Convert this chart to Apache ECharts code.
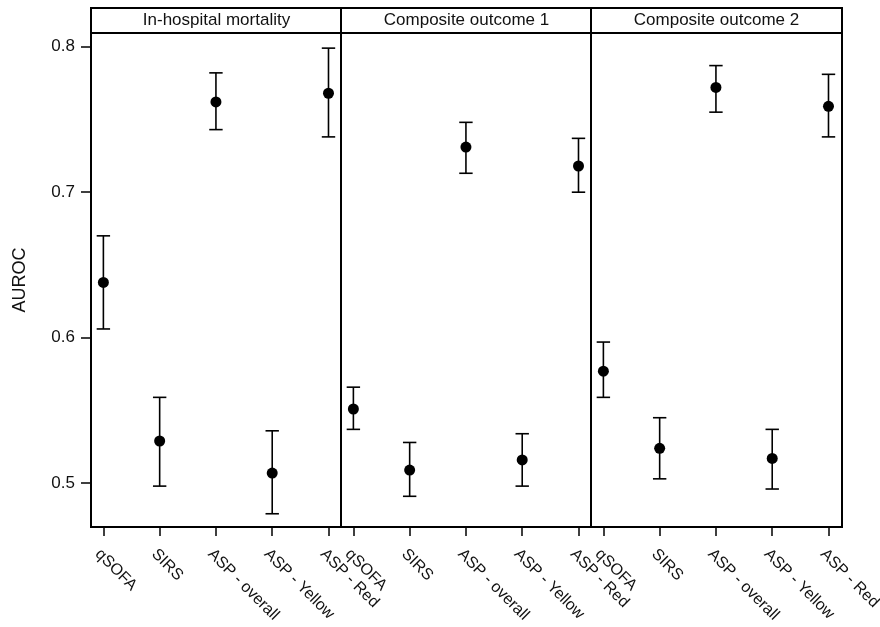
<!DOCTYPE html>
<html>
<head>
<meta charset="utf-8">
<script src="https://cdn.jsdelivr.net/npm/echarts@6/dist/echarts.min.js"></script>
<style>
html,body{margin:0;padding:0;background:#fff;}
#chart{width:880px;height:627px;}
</style>
</head>
<body>
<div id="chart"></div>
<script>
// ---- data ----
const categories = ['qSOFA', 'SIRS', 'ASP - overall', 'ASP - Yellow', 'ASP - Red'];
const panelTitles = ['In-hospital mortality', 'Composite outcome 1', 'Composite outcome 2'];
const mortalityAuc  = [0.638, 0.529, 0.762, 0.507, 0.768];
const mortalityLow  = [0.606, 0.498, 0.743, 0.479, 0.738];
const mortalityHigh = [0.670, 0.559, 0.782, 0.536, 0.799];
const comp1Auc  = [0.551, 0.509, 0.731, 0.516, 0.718];
const comp1Low  = [0.537, 0.491, 0.713, 0.498, 0.700];
const comp1High = [0.566, 0.528, 0.748, 0.534, 0.737];
const comp2Auc  = [0.577, 0.524, 0.772, 0.517, 0.759];
const comp2Low  = [0.559, 0.503, 0.755, 0.496, 0.738];
const comp2High = [0.597, 0.545, 0.787, 0.537, 0.781];
const yTicks = [0.5, 0.6, 0.7, 0.8];
const yLabel = 'AUROC';

const panels = [
  {auc: mortalityAuc, low: mortalityLow, high: mortalityHigh},
  {auc: comp1Auc, low: comp1Low, high: comp1High},
  {auc: comp2Auc, low: comp2Low, high: comp2High}
];

// ---- layout ----
const FONT = 'Arial, "Liberation Sans", sans-serif';
const TXT = '#111';
const panelLeft = [91, 341, 591];
const panelWidth = 251;
const plotTop = 33, plotHeight = 494;
const headerTop = 8, headerHeight = 25;
const xPos = categories.map((c, i) => i + 1);

const grid = [], xAxis = [], yAxis = [], series = [], title = [];

panels.forEach((p, k) => {
  // plot grid
  grid.push({left: panelLeft[k], top: plotTop, width: panelWidth, height: plotHeight,
    show: true, borderColor: '#000', borderWidth: 2, backgroundColor: '#fff',
    containLabel: false, outerBoundsMode: 'none'});
  xAxis.push({
    type: 'value', gridIndex: k, min: 0.78, max: 5.24,
    axisLine: {show: false}, splitLine: {show: false},
    axisTick: {show: true, customValues: xPos, length: 9, lineStyle: {color: '#000', width: 1.5}},
    axisLabel: {show: true, customValues: xPos, rotate: -45, margin: 19,
      align: 'left', verticalAlign: 'top',
      fontFamily: FONT, fontSize: 16, color: TXT,
      formatter: v => categories[Math.round(v) - 1] || ''}
  });
  yAxis.push({
    type: 'value', gridIndex: k, min: 0.4699, max: 0.8094,
    axisLine: {show: false}, splitLine: {show: false},
    axisTick: {show: k === 0, customValues: yTicks, length: 10, lineStyle: {color: '#000', width: 1.5}},
    axisLabel: {show: k === 0, customValues: yTicks, margin: 16, fontFamily: FONT, fontSize: 17, color: TXT,
      formatter: v => v.toFixed(1)},
    name: k === 0 ? yLabel : '', nameLocation: 'middle', nameGap: 62, nameRotate: 90,
    nameTextStyle: {fontFamily: FONT, fontSize: 18, color: TXT}
  });
  series.push({
    type: 'custom', xAxisIndex: k, yAxisIndex: k, silent: true,
    data: xPos.map((x, i) => [x, p.low[i], p.high[i]]),
    renderItem: (params, api) => {
      const x = api.value(0);
      const a = api.coord([x, api.value(1)]);
      const b = api.coord([x, api.value(2)]);
      const hw = 6.7;
      const st = {stroke: '#000', lineWidth: 1.6};
      return {type: 'group', children: [
        {type: 'line', shape: {x1: a[0], y1: a[1], x2: b[0], y2: b[1]}, style: st},
        {type: 'line', shape: {x1: a[0] - hw, y1: a[1], x2: a[0] + hw, y2: a[1]}, style: st},
        {type: 'line', shape: {x1: b[0] - hw, y1: b[1], x2: b[0] + hw, y2: b[1]}, style: st}
      ]};
    },
    z: 2
  });
  series.push({
    type: 'scatter', xAxisIndex: k, yAxisIndex: k, silent: true,
    symbol: 'circle', symbolSize: 11,
    itemStyle: {color: '#000', opacity: 1},
    data: xPos.map((x, i) => [x, p.auc[i]]),
    z: 3
  });
});

// header strips
panels.forEach((p, k) => {
  const gi = grid.length;
  grid.push({left: panelLeft[k], top: headerTop, width: panelWidth, height: headerHeight,
    show: true, borderColor: '#000', borderWidth: 2, backgroundColor: '#fff',
    containLabel: false, outerBoundsMode: 'none'});
  xAxis.push({type: 'value', gridIndex: gi, show: false});
  yAxis.push({type: 'value', gridIndex: gi, show: false});
  title.push({text: panelTitles[k], left: panelLeft[k] + panelWidth / 2, top: 12, textAlign: 'center',
    padding: 0, textStyle: {fontFamily: FONT, fontSize: 17, fontWeight: 'normal', color: TXT}});
});

const chart = echarts.init(document.getElementById('chart'), null, {renderer: 'canvas'});
chart.setOption({animation: false, backgroundColor: '#fff', title, grid, xAxis, yAxis, series});
</script>
</body>
</html>
